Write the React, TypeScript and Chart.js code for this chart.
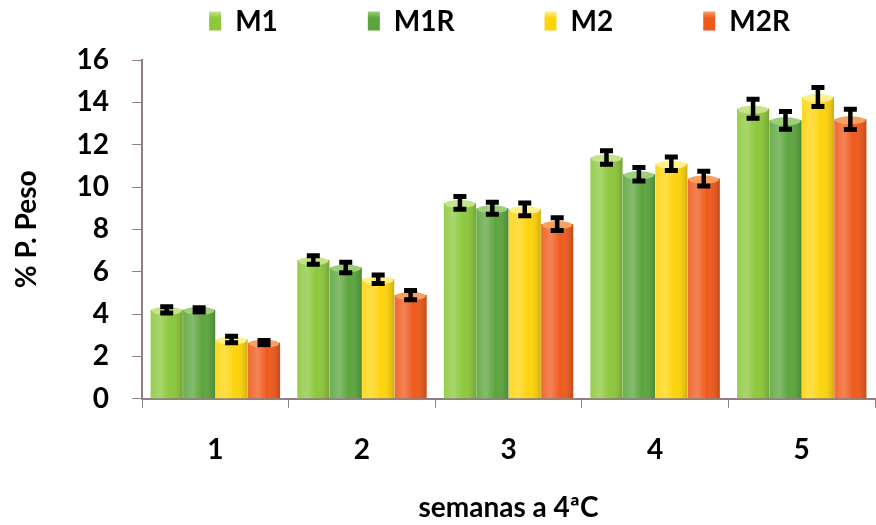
import React, { useEffect, useRef } from "react";
import { Chart, registerables } from "chart.js";

Chart.register(...registerables);

const categories = ["1", "2", "3", "4", "5"];
const seriesNames = ["M1", "M1R", "M2", "M2R"];
const m1 = [4.2, 6.55, 9.25, 11.4, 13.7];
const m1r = [4.2, 6.2, 9.0, 10.6, 13.15];
const m2 = [2.8, 5.65, 8.95, 11.1, 14.25];
const m2r = [2.65, 4.9, 8.25, 10.4, 13.2];
const m1Err = [0.15, 0.2, 0.3, 0.32, 0.45];
const m1rErr = [0.1, 0.25, 0.28, 0.32, 0.42];
const m2Err = [0.15, 0.2, 0.3, 0.32, 0.45];
const m2rErr = [0.1, 0.22, 0.3, 0.35, 0.48];
const colors = ["#8cc83c", "#5ca53d", "#fed40c", "#ef5a1c"];
const topColors = ["#c5e48a", "#9ccf78", "#fff08a", "#f8a060"];
const yTicks = [0, 2, 4, 6, 8, 10, 12, 14, 16];

const FONT = "Lato, 'Open Sans', sans-serif";

const barDecorPlugin = {
  id: "barDecor",
  afterDatasetsDraw(chart: any) {
    const ctx = chart.ctx;
    const y = chart.scales.y;
    chart.data.datasets.forEach((ds: any, di: number) => {
      const meta = chart.getDatasetMeta(di);
      meta.data.forEach((bar: any) => {
        const left = bar.x - bar.width / 2;
        const right = bar.x + bar.width / 2;
        const g = ctx.createLinearGradient(left, 0, right, 0);
        g.addColorStop(0, "rgba(255,255,255,0.10)");
        g.addColorStop(0.3, "rgba(255,255,255,0.25)");
        g.addColorStop(0.6, "rgba(255,255,255,0.0)");
        g.addColorStop(1, "rgba(0,0,0,0.18)");
        ctx.save();
        ctx.fillStyle = g;
        ctx.fillRect(left, bar.y, bar.width, bar.base - bar.y);
        ctx.fillStyle = topColors[di];
        ctx.beginPath();
        ctx.ellipse(bar.x, bar.y + 1, bar.width / 2 - 1, 4, 0, 0, Math.PI * 2);
        ctx.fill();
        ctx.restore();
      });
    });
    chart.data.datasets.forEach((ds: any, di: number) => {
      const meta = chart.getDatasetMeta(di);
      meta.data.forEach((bar: any, i: number) => {
        const v = ds.data[i];
        const e = ds.errors[i];
        const yTop = y.getPixelForValue(v + e);
        const yBot = y.getPixelForValue(v - e);
        ctx.save();
        ctx.strokeStyle = "#000";
        ctx.lineWidth = 4.5;
        ctx.beginPath();
        ctx.moveTo(bar.x, yTop);
        ctx.lineTo(bar.x, yBot);
        ctx.stroke();
        ctx.lineWidth = 5;
        ctx.beginPath();
        ctx.moveTo(bar.x - 6.5, yTop);
        ctx.lineTo(bar.x + 6.5, yTop);
        ctx.moveTo(bar.x - 6.5, yBot);
        ctx.lineTo(bar.x + 6.5, yBot);
        ctx.stroke();
        ctx.restore();
      });
    });
  },
};

const legendPlugin = {
  id: "customLegend",
  afterDraw(chart: any) {
    const ctx = chart.ctx;
    const area = chart.chartArea;
    ctx.save();
    ctx.font = `bold 28px ${FONT}`;
    ctx.textBaseline = "middle";
    ctx.textAlign = "left";
    const boxW = 12;
    const boxH = 19;
    const gap = 14;
    const pad = 90;
    const widths = seriesNames.map((n) => boxW + gap + ctx.measureText(n).width);
    const total = widths.reduce((a, b) => a + b, 0) + pad * (widths.length - 1);
    let x = (area.left + area.right) / 2 - 9 - total / 2;
    const cy = 21;
    seriesNames.forEach((n, k) => {
      const g = ctx.createLinearGradient(0, cy - boxH / 2, 0, cy + boxH / 2);
      g.addColorStop(0, topColors[k]);
      g.addColorStop(0.35, colors[k]);
      g.addColorStop(1, colors[k]);
      ctx.fillStyle = g;
      ctx.fillRect(x, cy - boxH / 2, boxW, boxH);
      ctx.fillStyle = "#000";
      ctx.fillText(n, x + boxW + gap, cy + 1);
      x += widths[k] + pad;
    });
    ctx.restore();
  },
};

export default function App() {
  const ref = useRef<HTMLCanvasElement | null>(null);
  useEffect(() => {
    document.body.style.margin = "0";
    const allData = [m1, m1r, m2, m2r];
    const allErr = [m1Err, m1rErr, m2Err, m2rErr];
    const chart = new Chart(ref.current as HTMLCanvasElement, {
      type: "bar",
      data: {
        labels: categories,
        datasets: seriesNames.map((name, k) => ({
          label: name,
          data: allData[k],
          errors: allErr[k],
          backgroundColor: colors[k],
          borderWidth: 0,
          barPercentage: 0.99,
          categoryPercentage: 0.885,
        })) as any,
      },
      options: {
        animation: false,
        responsive: false,
        maintainAspectRatio: false,
        layout: { padding: { top: 60, right: 1, bottom: 0, left: 10 } },
        plugins: {
          tooltip: { enabled: false },
          legend: { display: false },
        },
        scales: {
          x: {
            grid: {
              display: true,
              drawOnChartArea: false,
              drawTicks: true,
              tickLength: 9,
              offset: true,
              color: "#8f7f7f",
            },
            border: { display: true, color: "#8f7f7f", width: 2 },
            ticks: {
              color: "#000",
              padding: 25,
              font: { family: FONT, size: 28, weight: "bold" },
            },
            title: {
              display: true,
              text: "semanas a 4ªC",
              color: "#000",
              padding: { top: 0, bottom: 0 },
              font: { family: FONT, size: 28, weight: "bold" },
            },
          },
          y: {
            min: 0,
            max: 16,
            afterBuildTicks: (axis: any) => {
              axis.ticks = yTicks.map((v) => ({ value: v }));
            },
            grid: {
              display: true,
              drawOnChartArea: false,
              drawTicks: true,
              tickLength: 10,
              color: "#8f7f7f",
            },
            border: { display: true, color: "#8f7f7f", width: 2 },
            ticks: {
              color: "#000",
              padding: 23,
              font: { family: FONT, size: 28, weight: "bold" },
            },
            title: {
              display: true,
              text: "% P. Peso",
              color: "#000",
              padding: { top: 0, bottom: 10 },
              font: { family: FONT, size: 28, weight: "bold" },
            },
          },
        },
      },
      plugins: [barDecorPlugin, legendPlugin],
    });
    return () => chart.destroy();
  }, []);
  return (
    <div style={{ width: 876, height: 525 }}>
      <canvas ref={ref} width={876} height={525} style={{ display: "block" }} />
    </div>
  );
}
